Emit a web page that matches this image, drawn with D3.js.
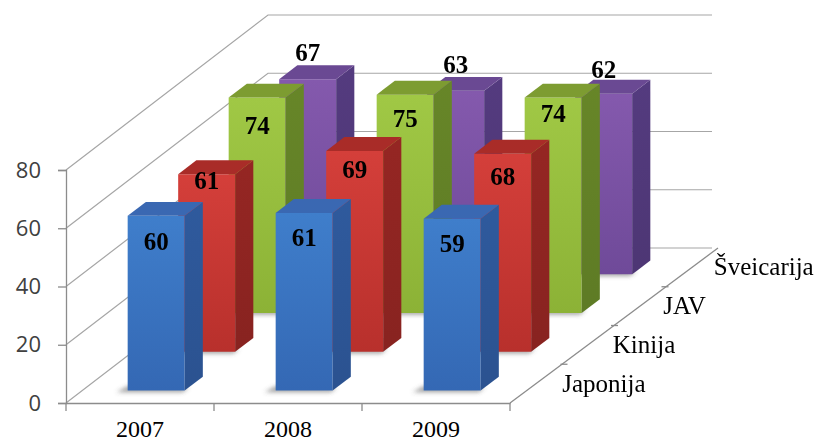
<!DOCTYPE html>
<html>
<head>
<meta charset="utf-8">
<script src="https://cdn.jsdelivr.net/npm/d3@7/dist/d3.min.js"></script>
<style>
  html, body { margin: 0; padding: 0; background: #ffffff; }
  svg { display: block; }
</style>
</head>
<body>
<svg id="chart" width="823" height="443"></svg>
<script>
// Categories, series and values
const years = ["2007", "2008", "2009"];
const seriesNames = ["Japonija", "Kinija", "JAV", "Šveicarija"];
const japonija = [60, 61, 59];
const kinija = [61, 69, 68];
const jav = [74, 75, 74];
const sveicarija = [67, 63, 62];
const yTicks = [0, 20, 40, 60, 80];

const values = [japonija, kinija, jav, sveicarija];

// Face colours per series: front, top, side
const palette = [
  { front: "#3f7ecb", frontDark: "#3468b4", top: "#3a68b2", side: "#2b5290" },
  { front: "#d43f3a", frontDark: "#b8302c", top: "#a92c28", side: "#882320" },
  { front: "#a0c845", frontDark: "#8cb236", top: "#7d9c31", side: "#5e7b25" },
  { front: "#8459ad", frontDark: "#6f4a99", top: "#6a4993", side: "#4d3674" }
];

// Vertical nudge of each value label, relative to the top front edge of its bar
const labelDy = [
  [25, 24, 24],
  [6, 18, 22],
  [28, 24, 16],
  [-27, -27, -25]
];

const serif = "'Liberation Serif', 'Times New Roman', serif";
const svg = d3.select("#chart");

// Front plane of the plot and the oblique depth vector
const x0 = 66, x1 = 510;
const depthVec = { dx: 202, dy: -155 };

const x = d3.scaleBand().domain(years).range([x0, x1])
  .paddingInner(0.615).paddingOuter(0.3075);
const xCat = d3.scaleBand().domain(years).range([x0, x1]);
const y = d3.scaleLinear().domain([0, 80]).range([403, 170]);
const z = d3.scaleBand().domain(seriesNames).range([0, 1])
  .paddingInner(0.64).paddingOuter(0.32);

const P = (px, v, d) => [px + d * depthVec.dx, y(v) + d * depthVec.dy];
const pts = arr => arr.map(p => p.join(",")).join(" ");

const defs = svg.append("defs");
defs.append("filter").attr("id", "soft")
  .attr("x", "-50%").attr("y", "-50%").attr("width", "200%").attr("height", "200%")
  .append("feGaussianBlur").attr("stdDeviation", 2.2);

palette.forEach((c, i) => {
  const g = defs.append("linearGradient").attr("id", "front" + i)
    .attr("x1", 0).attr("y1", 0).attr("x2", 0).attr("y2", 1);
  g.append("stop").attr("offset", "0%").attr("stop-color", c.front);
  g.append("stop").attr("offset", "100%").attr("stop-color", c.frontDark);
  const s = defs.append("linearGradient").attr("id", "side" + i)
    .attr("x1", 0).attr("y1", 0).attr("x2", 0).attr("y2", 1);
  s.append("stop").attr("offset", "0%").attr("stop-color", d3.color(c.side).brighter(0.25));
  s.append("stop").attr("offset", "100%").attr("stop-color", c.side);
});

const gridColor = "#a6a6a6";
const axisColor = "#8c8c8c";

// Walls: gridlines on the left side wall and the back wall
const walls = svg.append("g").attr("fill", "none").attr("stroke", gridColor).attr("stroke-width", 1.2);
yTicks.forEach(v => {
  const a = P(x0, v, 0), b = P(x0, v, 1), c = P(x1, v, 1);
  walls.append("polyline").attr("points", pts([a, b, c]));
});

// Depth axis along the right edge of the floor
const axes = svg.append("g").attr("fill", "none").attr("stroke", axisColor).attr("stroke-width", 1.3);
axes.append("line")
  .attr("x1", P(x1, 0, 0)[0]).attr("y1", P(x1, 0, 0)[1])
  .attr("x2", P(x1, 0, 1)[0] + 6).attr("y2", P(x1, 0, 1)[1]);
seriesNames.forEach((s, i) => {
  if (i === 0) return;
  const p = P(x1, 0, z(s) - z.step() * z.paddingInner() / 2);
  axes.append("line").attr("x1", p[0]).attr("y1", p[1]).attr("x2", p[0] + 7).attr("y2", p[1]);
});

// Floor shadows under the bars
const shadows = svg.append("g").attr("filter", "url(#soft)");
// Bars, drawn from the back row to the front row
const bars = svg.append("g");
const labels = svg.append("g");

for (let si = seriesNames.length - 1; si >= 0; si--) {
  const dA = z(seriesNames[si]);
  const dB = dA + z.bandwidth();
  const c = palette[si];
  years.forEach((yr, ci) => {
    const v = values[si][ci];
    const xl = x(yr), xr = xl + x.bandwidth();

    shadows.append("polygon")
      .attr("points", pts([P(xl - 9, 0, dA - 0.01), P(xr, 0, dA - 0.01), P(xr, 0, dA + 0.02), P(xl - 6, 0, dA + 0.03)]))
      .attr("fill", "#555").attr("opacity", 0.55);

    const g = bars.append("g");
    // front face
    g.append("polygon")
      .attr("points", pts([P(xl, 0, dA), P(xr, 0, dA), P(xr, v, dA), P(xl, v, dA)]))
      .attr("fill", `url(#front${si})`);
    // side face
    g.append("polygon")
      .attr("points", pts([P(xr, 0, dA), P(xr, 0, dB), P(xr, v, dB), P(xr, v, dA)]))
      .attr("fill", `url(#side${si})`);
    // top face
    g.append("polygon")
      .attr("points", pts([P(xl, v, dA), P(xr, v, dA), P(xr, v, dB), P(xl, v, dB)]))
      .attr("fill", c.top);

    const top = P((xl + xr) / 2, v, dA);
    labels.append("text")
      .attr("x", top[0])
      .attr("y", top[1] + labelDy[si][ci])
      .attr("dy", "0.35em")
      .attr("text-anchor", "middle")
      .attr("font-family", serif)
      .attr("font-weight", "bold")
      .attr("font-size", 25)
      .attr("fill", "#000")
      .text(v);
  });
}

// Value axis on the front plane
const yAxis = svg.append("g").attr("transform", `translate(${x0},0)`)
  .call(d3.axisLeft(y).tickValues(yTicks).tickSize(8).tickPadding(17));
yAxis.select(".domain").attr("stroke", axisColor).attr("stroke-width", 1.3);
yAxis.selectAll(".tick line").attr("stroke", axisColor).attr("stroke-width", 1.3);
yAxis.selectAll(".tick text")
  .attr("font-family", "'Open Sans', sans-serif")
  .attr("font-size", 22)
  .attr("fill", "#404040");

// Category axis along the front edge of the floor
const xAxis = svg.append("g").attr("transform", `translate(0,${y(0)})`)
  .call(d3.axisBottom(xCat).tickSize(0).tickPadding(0));
xAxis.select(".domain").attr("stroke", axisColor).attr("stroke-width", 1.3);
xAxis.selectAll(".tick text")
  .attr("font-family", serif)
  .attr("font-size", 24)
  .attr("fill", "#000")
  .attr("dy", null)
  .attr("y", 34);
const catEdges = years.map(d => xCat(d)).concat([x1]);
xAxis.selectAll(".cat-tick").data(catEdges).enter().append("line")
  .attr("x1", d => d).attr("x2", d => d).attr("y1", 0).attr("y2", 8)
  .attr("stroke", axisColor).attr("stroke-width", 1.3);

// Series names along the depth axis
seriesNames.forEach(s => {
  const p = P(x1, 0, z(s) + z.bandwidth() / 2);
  svg.append("text")
    .attr("x", p[0] + 27)
    .attr("y", p[1] + 8)
    .attr("font-family", serif)
    .attr("font-size", 25)
    .attr("fill", "#000")
    .text(s);
});
</script>
</body>
</html>
